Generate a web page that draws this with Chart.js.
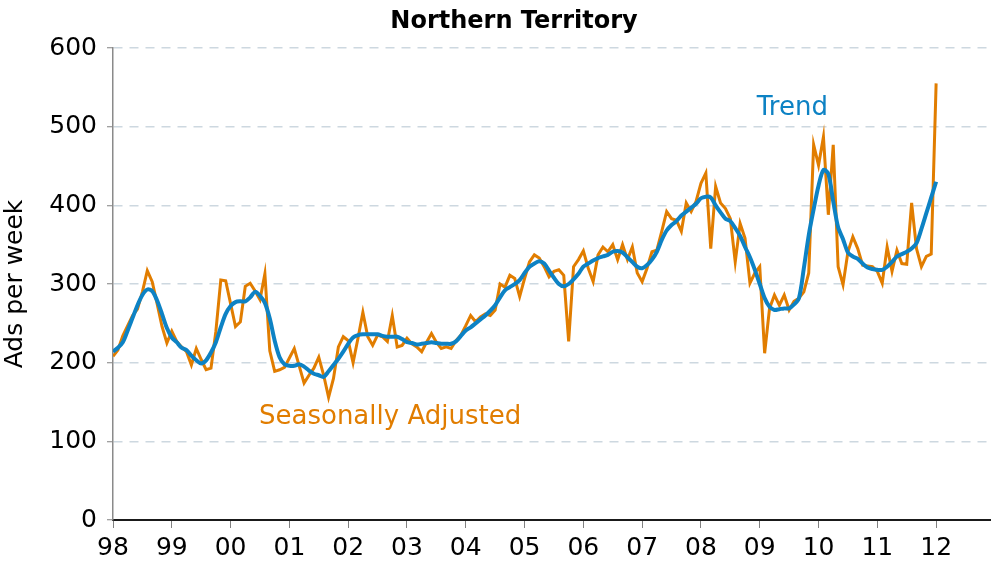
<!DOCTYPE html>
<html>
<head>
<meta charset="utf-8">
<script src="https://cdn.jsdelivr.net/npm/chart.js@4.4.1/dist/chart.umd.min.js"></script>
<style>
html,body{margin:0;padding:0;background:#fff;}
#wrap{width:991px;height:575px;position:relative;}
</style>
</head>
<body>
<div id="wrap"><canvas id="c" width="991" height="575"></canvas></div>
<script>
// Monthly series, Jan 1998 (month 0) to Jan 2012 (month 168)
const seasonallyAdjusted = [
  208,216,234,247,260,268,290,317,303,275,246,225,
  240,227,220,214,197,218,204,191,193,240,305,304,
  275,246,252,297,301,291,280,313,215,189,191,194,
  206,218,196,174,184,193,207,184,156,180,220,233,
  228,200,231,264,233,222,235,233,227,260,220,222,
  231,224,220,214,226,237,226,218,220,218,228,235,
  247,260,252,258,262,260,267,300,296,311,307,284,
  307,328,337,333,322,309,316,318,311,227,322,331,
  342,320,303,337,347,341,350,331,350,331,347,314,
  303,320,341,343,367,392,383,381,367,403,392,405,
  428,441,345,424,403,396,383,328,377,358,301,314,
  322,212,269,286,273,286,267,278,282,290,314,477,
  451,487,388,477,322,299,341,360,345,324,323,322,
  316,301,347,316,343,326,325,403,345,322,335,338,
  555
];
const trend = [
  214,219,226,241,257,273,286,293,291,279,262,244,
  232,226,219,216,209,203,199,203,213,226,245,262,
  272,277,278,278,283,290,285,276,256,228,207,198,
  196,196,198,195,190,186,184,182,189,197,205,214,
  224,232,235,236,236,236,236,234,233,233,233,230,
  226,225,223,224,225,226,225,224,224,224,227,234,
  241,245,250,255,260,266,273,283,292,296,300,305,
  314,322,326,329,326,317,308,300,297,300,306,313,
  322,326,330,333,335,337,341,342,340,334,328,322,
  320,324,331,341,356,368,375,380,387,392,397,402,
  409,411,410,400,391,383,380,371,361,347,334,318,
  300,282,271,267,268,269,269,274,282,320,362,395,
  425,445,440,405,372,357,340,335,332,326,321,319,
  318,318,322,328,335,338,341,345,352,370,390,410,
  430
];
const yearLabels = ['98','99','00','01','02','03','04','05','06','07','08','09','10','11','12'];
const yTicks = [0,100,200,300,400,500,600];
const chartTitle = 'Northern Territory';

const ORANGE = '#E17D00';
const BLUE = '#0D82C4';
const FONT = "'DejaVu Sans', Verdana, sans-serif";

const toPoints = arr => arr.map((v, i) => ({x: i, y: v}));

const labelPlugin = {
  id: 'seriesLabels',
  afterDraw(chart) {
    const {ctx, scales: {x, y}} = chart;
    ctx.save();
    ctx.font = "26px " + FONT;
    ctx.textAlign = 'left';
    ctx.textBaseline = 'alphabetic';
    ctx.fillStyle = BLUE;
    ctx.fillText('Trend', x.getPixelForValue(131.4), y.getPixelForValue(515));
    ctx.fillStyle = ORANGE;
    ctx.fillText('Seasonally Adjusted', x.getPixelForValue(29.8), y.getPixelForValue(122));
    ctx.font = "bold 24px " + FONT;
    ctx.fillStyle = '#000';
    ctx.textAlign = 'center';
    ctx.textBaseline = 'middle';
    ctx.fillText(chartTitle, 514, 22);
    ctx.restore();
  }
};

new Chart(document.getElementById('c'), {
  type: 'line',
  data: {
    datasets: [
      {label: 'Seasonally Adjusted', data: toPoints(seasonallyAdjusted), borderColor: ORANGE,
       borderWidth: 3, pointRadius: 0, tension: 0, order: 2, fill: false},
      {label: 'Trend', data: toPoints(trend), borderColor: BLUE,
       borderWidth: 4, pointRadius: 0, tension: 0.3, order: 1, fill: false}
    ]
  },
  options: {
    responsive: false,
    animation: false,
    layout: {padding: {top: 48, left: 0, right: 0, bottom: 0}},
    plugins: {
      legend: {display: false},
      tooltip: {enabled: false},
      title: {display: false}
    },
    scales: {
      x: {
        type: 'linear', min: 0, max: 179.2,
        afterFit: s => { s.height = 55; },
        ticks: {
          stepSize: 12, includeBounds: false, autoSkip: false, maxRotation: 0,
          color: '#000', font: {family: FONT, size: 25}, padding: 5,
          callback: v => { const k = Math.round(v / 12); return (v % 12 === 0 && k < yearLabels.length) ? yearLabels[k] : ''; }
        },
        grid: {display: true, drawOnChartArea: false, drawTicks: true, tickLength: 8, tickColor: '#808080', tickWidth: 1},
        border: {display: true, color: '#1a1a1a', width: 2}
      },
      y: {
        min: 0, max: 600,
        afterFit: s => { s.width = 113; },
        afterBuildTicks: s => { s.ticks = yTicks.map(v => ({value: v})); },
        ticks: {color: '#000', font: {family: FONT, size: 25}, padding: 10},
        title: {display: true, text: 'Ads per week', color: '#000', font: {family: FONT, size: 25}, padding: {top: 0, bottom: 6}},
        grid: {color: ctx => ctx.tick && ctx.tick.value === 0 ? 'rgba(0,0,0,0)' : '#CDD8E0', lineWidth: 1.5, tickLength: 6, tickColor: '#808080', tickWidth: 1},
        border: {display: true, color: '#8a8a8a', width: 1.5, dash: [9, 7]}
      }
    }
  },
  plugins: [labelPlugin]
});
</script>
</body>
</html>
